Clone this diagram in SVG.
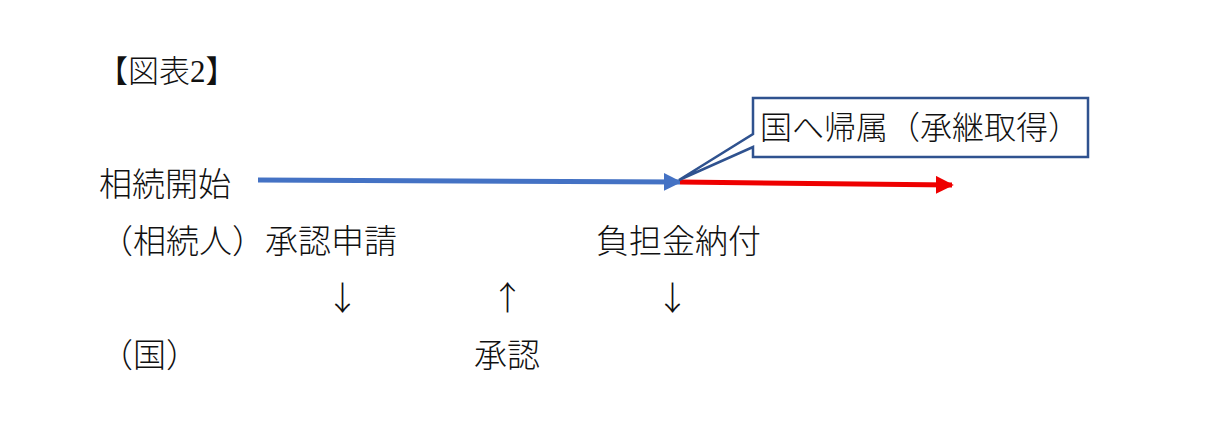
<svg xmlns="http://www.w3.org/2000/svg" width="1215" height="432" viewBox="0 0 1215 432">
<style>
text{font-family:"Noto Sans CJK JP",sans-serif;font-size:33px;fill:#111;font-weight:300}
.t{font-family:"Liberation Serif","Noto Sans CJK JP",serif;font-size:31px;font-weight:300}
</style>
<defs>
<marker id="ab" viewBox="0 0 10 10" refX="9" refY="5" markerWidth="3.6" markerHeight="3.6" orient="auto"><path d="M0,0L10,5L0,10z" fill="#4472C4"/></marker>
<marker id="ar" viewBox="0 0 10 10" refX="9" refY="5" markerWidth="3.6" markerHeight="3.6" orient="auto"><path d="M0,0L10,5L0,10z" fill="#EE0000"/></marker>
</defs>
<rect width="1215" height="432" fill="#fff"/>
<text class="t" x="97" y="82">【図表2】</text>
<g id="connectors">
<line x1="258" y1="180" x2="680" y2="182" stroke="#4472C4" stroke-width="5" marker-end="url(#ab)"/>
<line x1="680" y1="182" x2="952" y2="185" stroke="#EE0000" stroke-width="5" marker-end="url(#ar)"/>
</g>
<g id="callout">
<path d="M753,98H1088V157H753V147L679,180L753,134Z" fill="#fff" stroke="#2F528F" stroke-width="2.5"/>
<text x="760" y="139" style="font-size:32px">国へ帰属（承継取得）</text>
</g>
<g id="labels">
<text x="99" y="196">相続開始</text>
<text x="100" y="253">（相続人）承認申請</text>
<text x="596" y="253">負担金納付</text>
<text x="326" y="310">↓</text>
<text x="491" y="310">↑</text>
<text x="656" y="310">↓</text>
<text x="100" y="367">（国）</text>
<text x="474" y="367">承認</text>
</g>
</svg>
